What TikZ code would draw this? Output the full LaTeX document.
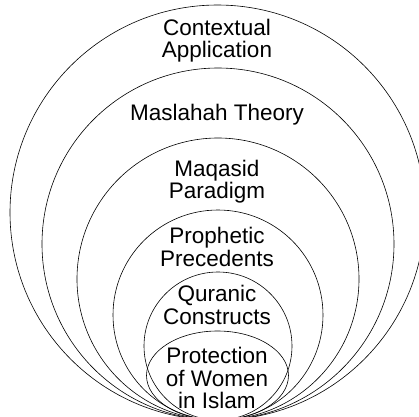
\documentclass[tikz,border=0pt]{standalone}
\usepackage{fontspec}
\setmainfont{Liberation Sans}
\begin{document}
\begin{tikzpicture}[x=1bp,y=-1bp,
  ring/.style={draw=black,line width=0.6bp},
  lbl/.style={anchor=base,inner sep=0pt,font=\fontsize{22.5bp}{22.5bp}\selectfont}]
\useasboundingbox (0,0) rectangle (419,417);
\begin{scope}
\clip (0,0) rectangle (419,417);
\draw[ring] (217.5,212.5) circle[radius=207.5];
\draw[ring] (218,244) circle[radius=176];
\draw[ring] (218,279) circle[radius=141];
\draw[ring] (218,315) circle[radius=105];
\draw[ring] (218,346) circle[radius=74];
\draw[ring] (217.5,375.5) ellipse[x radius=71,y radius=44.5];
\end{scope}
\node[lbl] (c1) at (217,35) {Contextual};
\node[lbl] (c2) at (217,57.5) {Application};
\node[lbl] (m1) at (217,120) {Maslahah Theory};
\node[lbl] (q1) at (217,176) {Maqasid};
\node[lbl] (q2) at (217,198.5) {Paradigm};
\node[lbl] (p1) at (217,243.5) {Prophetic};
\node[lbl] (p2) at (217,266.5) {Precedents};
\node[lbl] (r1) at (217,301.5) {Quranic};
\node[lbl] (r2) at (217,324) {Constructs};
\node[lbl] (w1) at (217,363) {Protection};
\node[lbl] (w2) at (217,386) {of Women};
\node[lbl] (w3) at (217,408.5) {in Islam};
\end{tikzpicture}
\end{document}
